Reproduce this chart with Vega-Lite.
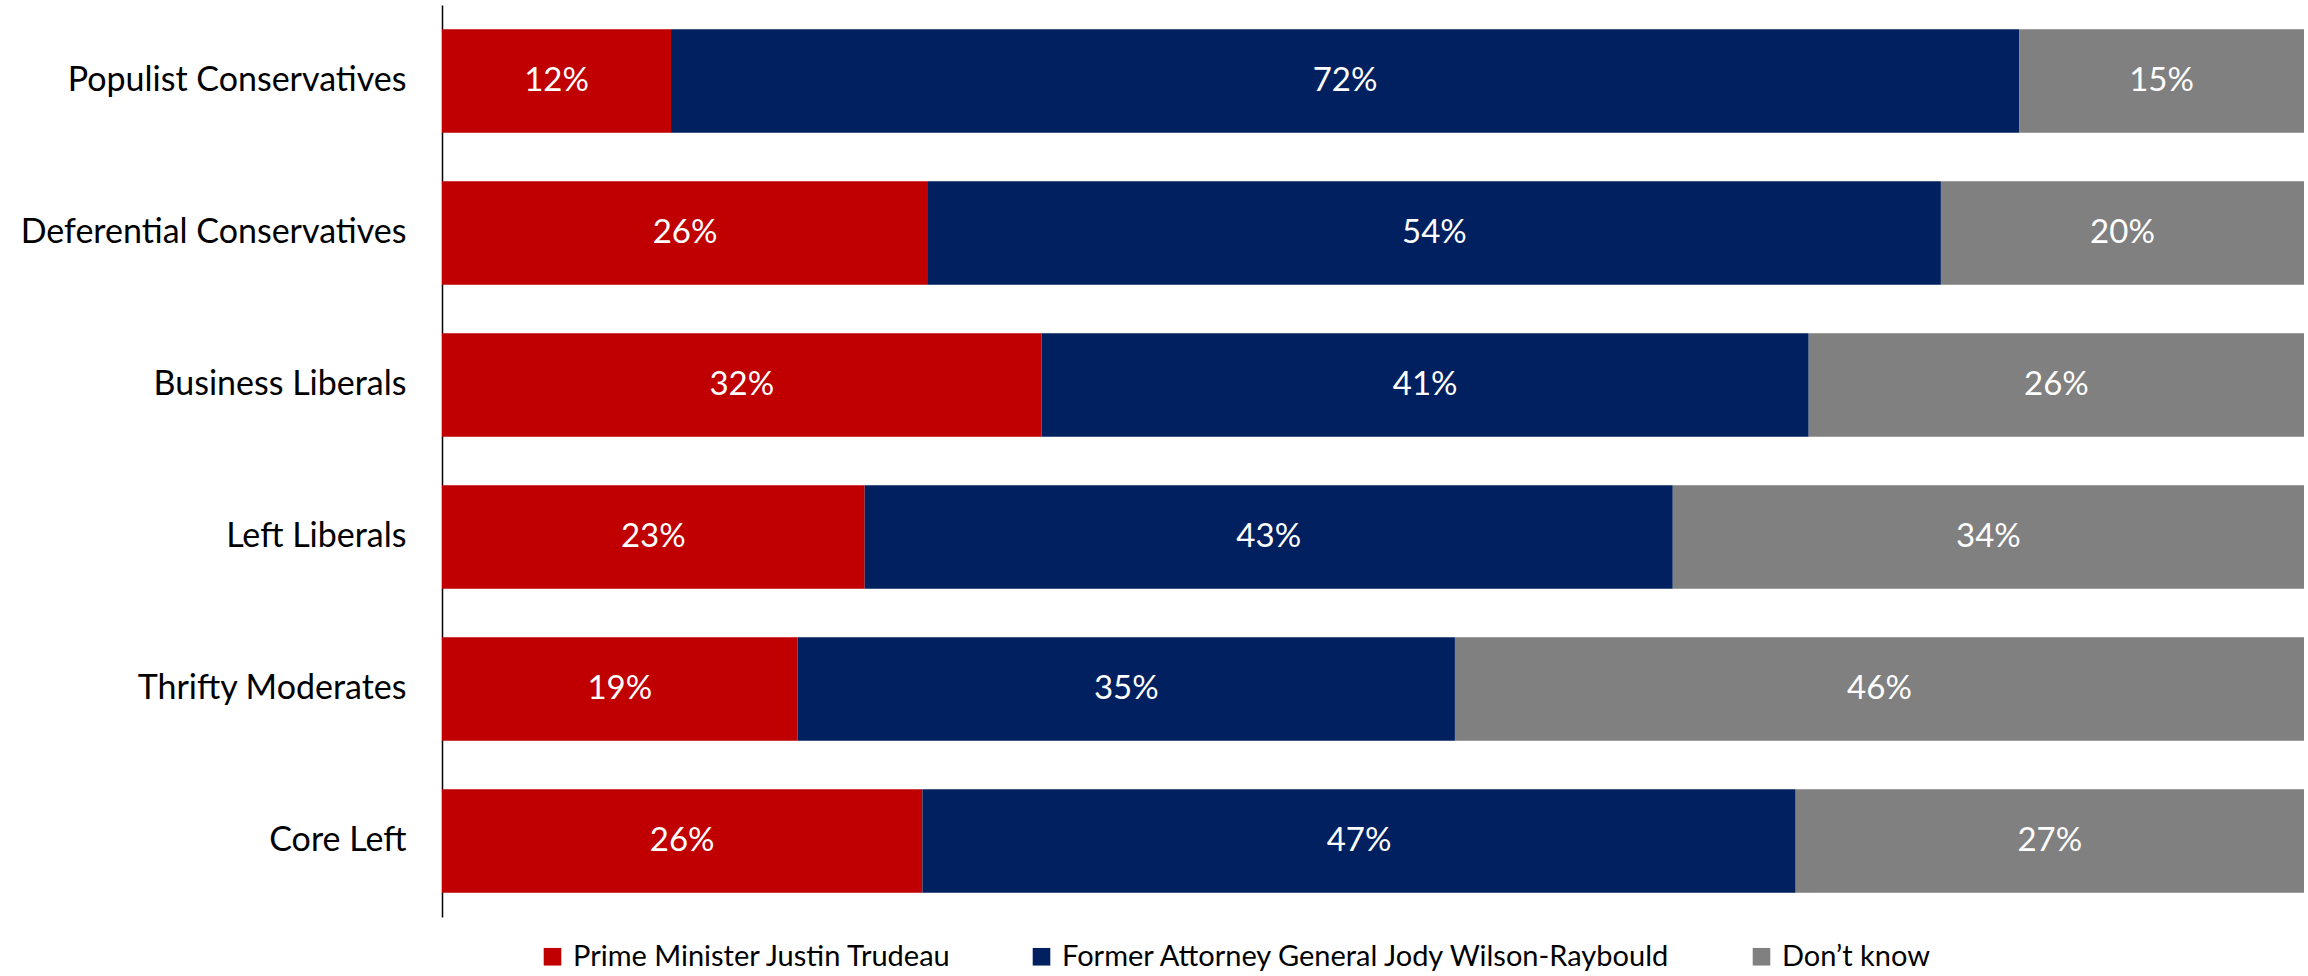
{
  "$schema": "https://vega.github.io/schema/vega-lite/v6.json",
  "width": 1862,
  "height": 912,
  "autosize": {"type": "none"},
  "padding": {"left": 442, "top": 5, "right": 4, "bottom": 59},
  "background": "white",
  "config": {"view": {"stroke": null}, "font": "Lato"},
  "data": {"values": [
    {"group": "Populist Conservatives", "response": "Prime Minister Justin Trudeau", "idx": 1, "value": 12.3, "label": "12%"},
    {"group": "Populist Conservatives", "response": "Former Attorney General Jody Wilson-Raybould", "idx": 2, "value": 72.4, "label": "72%"},
    {"group": "Populist Conservatives", "response": "Don’t know", "idx": 3, "value": 15.3, "label": "15%"},
    {"group": "Deferential Conservatives", "response": "Prime Minister Justin Trudeau", "idx": 1, "value": 26.1, "label": "26%"},
    {"group": "Deferential Conservatives", "response": "Former Attorney General Jody Wilson-Raybould", "idx": 2, "value": 54.4, "label": "54%"},
    {"group": "Deferential Conservatives", "response": "Don’t know", "idx": 3, "value": 19.5, "label": "20%"},
    {"group": "Business Liberals", "response": "Prime Minister Justin Trudeau", "idx": 1, "value": 32.2, "label": "32%"},
    {"group": "Business Liberals", "response": "Former Attorney General Jody Wilson-Raybould", "idx": 2, "value": 41.2, "label": "41%"},
    {"group": "Business Liberals", "response": "Don’t know", "idx": 3, "value": 26.6, "label": "26%"},
    {"group": "Left Liberals", "response": "Prime Minister Justin Trudeau", "idx": 1, "value": 22.7, "label": "23%"},
    {"group": "Left Liberals", "response": "Former Attorney General Jody Wilson-Raybould", "idx": 2, "value": 43.4, "label": "43%"},
    {"group": "Left Liberals", "response": "Don’t know", "idx": 3, "value": 33.9, "label": "34%"},
    {"group": "Thrifty Moderates", "response": "Prime Minister Justin Trudeau", "idx": 1, "value": 19.1, "label": "19%"},
    {"group": "Thrifty Moderates", "response": "Former Attorney General Jody Wilson-Raybould", "idx": 2, "value": 35.3, "label": "35%"},
    {"group": "Thrifty Moderates", "response": "Don’t know", "idx": 3, "value": 45.6, "label": "46%"},
    {"group": "Core Left", "response": "Prime Minister Justin Trudeau", "idx": 1, "value": 25.8, "label": "26%"},
    {"group": "Core Left", "response": "Former Attorney General Jody Wilson-Raybould", "idx": 2, "value": 46.9, "label": "47%"},
    {"group": "Core Left", "response": "Don’t know", "idx": 3, "value": 27.3, "label": "27%"}
  ]},
  "encoding": {
    "y": {
      "field": "group", "type": "nominal", "sort": null, "title": null,
      "scale": {"paddingInner": 0.32, "paddingOuter": 0.16},
      "axis": {
        "domain": true, "domainColor": "#000000", "domainWidth": 1.5,
        "ticks": false, "labelFontSize": 34, "labelColor": "#000000",
        "labelPadding": 36, "labelLimit": 500, "labelFont": "Lato"
      }
    },
    "x": {
      "field": "value", "type": "quantitative", "stack": "normalize",
      "axis": null, "scale": {"domain": [0, 1], "nice": false}
    },
    "order": {"field": "idx", "type": "quantitative"}
  },
  "layer": [
    {
      "mark": {"type": "bar"},
      "encoding": {
        "color": {
          "field": "response", "type": "nominal", "title": null,
          "scale": {
            "domain": ["Prime Minister Justin Trudeau", "Former Attorney General Jody Wilson-Raybould", "Don’t know"],
            "range": ["#C00000", "#002060", "#808080"]
          },
          "legend": {
            "orient": "none", "legendX": 96, "legendY": 937,
            "direction": "horizontal", "symbolType": "square",
            "symbolSize": 310, "symbolStrokeWidth": 0,
            "labelFontSize": 29, "labelColor": "#000000", "labelFont": "Lato",
            "columnPadding": 74, "labelOffset": 6, "labelLimit": 800
          }
        }
      }
    },
    {
      "mark": {"type": "text", "color": "white", "fontSize": 33, "font": "Lato", "align": "center", "baseline": "middle"},
      "encoding": {
        "x": {"field": "value", "type": "quantitative", "stack": "normalize", "bandPosition": 0.5},
        "text": {"field": "label"}
      }
    }
  ]
}
